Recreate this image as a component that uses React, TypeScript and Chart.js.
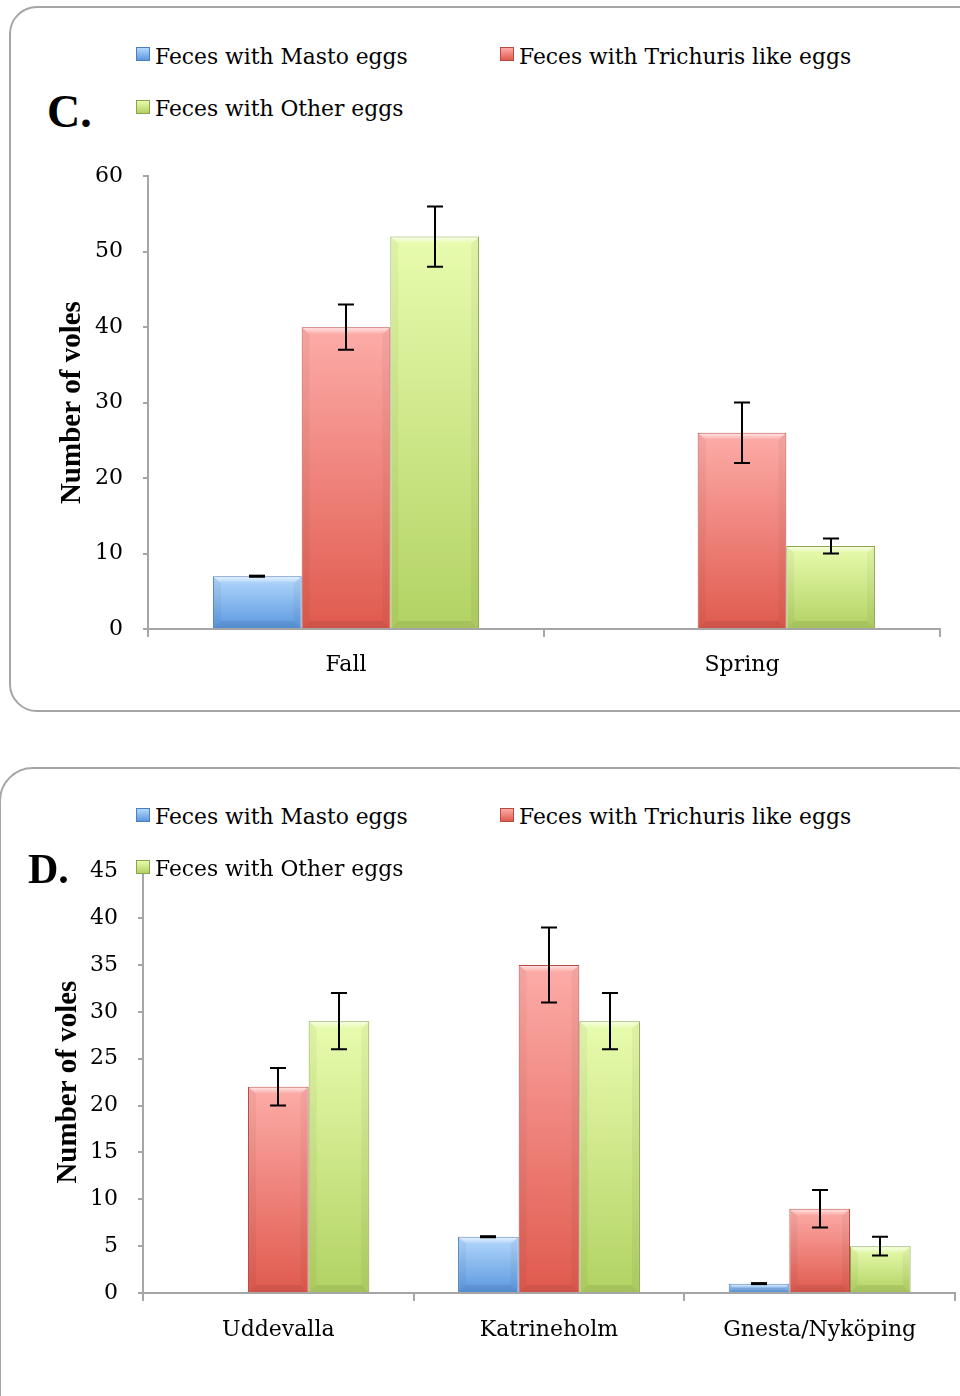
import React, { useEffect, useRef } from 'react';
import { Chart, registerables } from 'chart.js';

Chart.register(...registerables);

// ---------- data ----------
const seriesNames = ['Feces with Masto eggs', 'Feces with Trichuris like eggs', 'Feces with Other eggs'];

const seasonLabels = ['Fall', 'Spring'];
const seasonMasto = [7, 0];
const seasonTrichuris = [40, 26];
const seasonOther = [52, 11];
const seasonMastoErr = [0, null];
const seasonTrichurisErr = [3, 4];
const seasonOtherErr = [4, 1];
const seasonAxisMax = 60;
const seasonAxisStep = 10;

const siteLabels = ['Uddevalla', 'Katrineholm', 'Gnesta/Nyköping'];
const siteMasto = [0, 6, 1];
const siteTrichuris = [22, 35, 9];
const siteOther = [29, 29, 5];
const siteMastoErr = [null, 0, 0];
const siteTrichurisErr = [2, 4, 2];
const siteOtherErr = [3, 3, 1];
const siteAxisMax = 45;
const siteAxisStep = 5;

const yTitle = 'Number of voles';

// ---------- style ----------
const colTop = ['#b4d8fc', '#fdaca8', '#e8fcae'];
const colBottom = ['#5a98df', '#e05a4e', '#b2d263'];
const colEdge = ['#4a7fbf', '#b84a42', '#8ca34c'];
const axisColor = '#a6a6a6';
const tickFont = { family: 'DejaVu Serif', size: 22 };
const legendFontFamily = 'DejaVu Serif';

function barGradient(c: any, i: number) {
  const chart = c.chart;
  if (!chart.chartArea || c.raw == null) return colBottom[i];
  const y = chart.scales.y;
  const top = y.getPixelForValue(c.raw);
  const bot = y.getPixelForValue(0);
  if (!isFinite(top) || Math.abs(bot - top) < 1) return colTop[i];
  const g = chart.ctx.createLinearGradient(0, top, 0, bot);
  g.addColorStop(0, colTop[i]);
  g.addColorStop(1, colBottom[i]);
  return g;
}

const bevelAndErrors = {
  id: 'errorBars',
  afterDatasetsDraw(chart: any, _args: any, opts: any) {
    const ctx = chart.ctx;
    const y = chart.scales.y;
    const errs = opts.errors || [];
    ctx.save();
    // bevel highlights
    chart.data.datasets.forEach((ds: any, di: number) => {
      const meta = chart.getDatasetMeta(di);
      meta.data.forEach((el: any) => {
        const p = el.getProps(['x', 'y', 'base', 'width'], true);
        const h = p.base - p.y;
        if (h < 2) return;
        const l = p.x - p.width / 2 + 1;
        const r = p.x + p.width / 2 - 1;
        const bw = Math.min(7, h / 2);
        const gt = ctx.createLinearGradient(0, p.y, 0, p.y + bw);
        gt.addColorStop(0, 'rgba(255,255,255,0.75)');
        gt.addColorStop(1, 'rgba(255,255,255,0)');
        ctx.fillStyle = gt;
        ctx.beginPath();
        ctx.moveTo(l, p.y + 1);
        ctx.lineTo(r, p.y + 1);
        ctx.lineTo(r - bw, p.y + bw);
        ctx.lineTo(l + bw, p.y + bw);
        ctx.closePath();
        ctx.fill();
        ctx.fillStyle = 'rgba(0,0,0,0.04)';
        ctx.beginPath();
        ctx.moveTo(l, p.y + 1);
        ctx.lineTo(l + bw, p.y + bw);
        ctx.lineTo(l + bw, p.base - bw);
        ctx.lineTo(l, p.base);
        ctx.closePath();
        ctx.fill();
        ctx.beginPath();
        ctx.moveTo(r, p.y + 1);
        ctx.lineTo(r - bw, p.y + bw);
        ctx.lineTo(r - bw, p.base - bw);
        ctx.lineTo(r, p.base);
        ctx.closePath();
        ctx.fill();
        ctx.fillStyle = 'rgba(0,0,0,0.08)';
        ctx.beginPath();
        ctx.moveTo(l, p.base);
        ctx.lineTo(l + bw, p.base - bw);
        ctx.lineTo(r - bw, p.base - bw);
        ctx.lineTo(r, p.base);
        ctx.closePath();
        ctx.fill();
      });
    });
    // error bars
    ctx.strokeStyle = '#000';
    ctx.lineWidth = 2;
    chart.data.datasets.forEach((ds: any, di: number) => {
      const meta = chart.getDatasetMeta(di);
      meta.data.forEach((el: any, i: number) => {
        const e = errs[di] ? errs[di][i] : null;
        if (e == null) return;
        const v = ds.data[i];
        const x = Math.round(el.x);
        const yh = y.getPixelForValue(v + e);
        const yl = y.getPixelForValue(v - e);
        const cap = 8;
        ctx.beginPath();
        ctx.moveTo(x, yh);
        ctx.lineTo(x, yl);
        ctx.moveTo(x - cap, yh);
        ctx.lineTo(x + cap, yh);
        ctx.moveTo(x - cap, yl);
        ctx.lineTo(x + cap, yl);
        ctx.stroke();
        if (e === 0) {
          ctx.fillStyle = '#000';
          ctx.fillRect(x - cap, yh - 1.5, cap * 2, 3);
        }
      });
    });
    ctx.restore();
  },
};

type PanelProps = {
  labels: string[];
  series: number[][];
  errors: (number | null)[][];
  max: number;
  step: number;
  top: number;
  height: number;
  padTop: number;
  padRight: number;
  yWidth: number;
  xHeight: number;
  titlePad: number;
  xPad: number;
};

function BarPanel(props: PanelProps) {
  const ref = useRef<HTMLCanvasElement>(null);
  useEffect(() => {
    if (!ref.current) return;
    const chart = new Chart(ref.current, {
      type: 'bar',
      data: {
        labels: props.labels,
        datasets: props.series.map((d, i) => ({
          label: seriesNames[i],
          data: d,
          backgroundColor: (c: any) => barGradient(c, i),
          borderColor: colEdge[i],
          borderWidth: 1,
          categoryPercentage: 0.672,
          barPercentage: 1,
        })),
      },
      options: {
        animation: false,
        responsive: false,
        maintainAspectRatio: false,
        layout: { padding: { top: props.padTop, right: props.padRight, left: 0, bottom: 0 } },
        plugins: {
          legend: { display: false },
          tooltip: { enabled: false },
          errorBars: { errors: props.errors },
        } as any,
        scales: {
          x: {
            grid: {
              display: true,
              drawOnChartArea: false,
              drawTicks: true,
              tickLength: 8,
              color: axisColor,
              lineWidth: 2,
              offset: true,
            },
            border: { display: true, color: axisColor, width: 2 },
            ticks: { font: tickFont, color: '#000', padding: props.xPad, maxRotation: 0 },
            afterFit: (s: any) => {
              s.height = props.xHeight;
            },
          },
          y: {
            min: 0,
            max: props.max,
            ticks: { stepSize: props.step, font: tickFont, color: '#000', padding: 20 },
            grid: {
              display: true,
              drawOnChartArea: false,
              drawTicks: true,
              tickLength: 5,
              color: axisColor,
              lineWidth: 2,
            },
            border: { display: true, color: axisColor, width: 2 },
            title: {
              display: true,
              text: yTitle,
              color: '#000',
              font: { family: 'Liberation Serif', weight: 'bold', size: 29 },
              padding: { top: props.titlePad, bottom: 0 },
            },
            afterFit: (s: any) => {
              s.width = props.yWidth;
            },
          },
        },
      },
      plugins: [bevelAndErrors],
    } as any);
    return () => chart.destroy();
  }, []);
  return (
    <canvas
      ref={ref}
      width={960}
      height={props.height}
      style={{ position: 'absolute', left: 0, top: props.top, width: 960, height: props.height }}
    />
  );
}

function LegendItem({ idx, sx, sy, baseline }: { idx: number; sx: number; sy: number; baseline: number }) {
  return (
    <>
      <div
        style={{
          position: 'absolute',
          left: sx,
          top: sy,
          width: 12,
          height: 12,
          background: `linear-gradient(to bottom, ${colTop[idx]}, ${colBottom[idx]})`,
          border: `1px solid ${colEdge[idx]}`,
        }}
      />
      <div
        style={{
          position: 'absolute',
          left: sx + 19,
          top: baseline - 20,
          fontFamily: legendFontFamily,
          fontSize: 21.8,
          lineHeight: '24px',
          whiteSpace: 'nowrap',
          color: '#000',
        }}
      >
        {seriesNames[idx]}
      </div>
    </>
  );
}

export default function App() {
  return (
    <div
      style={{
        position: 'absolute',
        left: 0,
        top: 0,
        width: 960,
        height: 1396,
        overflow: 'hidden',
        background: '#fff',
      }}
    >
      {/* Panel C */}
      <div
        style={{
          position: 'absolute',
          left: 9,
          top: 6,
          width: 980,
          height: 706,
          border: '2px solid #a6a6a6',
          borderRadius: 28,
          boxSizing: 'border-box',
        }}
      />
      <BarPanel
        labels={seasonLabels}
        series={[seasonMasto, seasonTrichuris, seasonOther]}
        errors={[seasonMastoErr, seasonTrichurisErr, seasonOtherErr]}
        max={seasonAxisMax}
        step={seasonAxisStep}
        top={143}
        height={567}
        padTop={10}
        padRight={20}
        yWidth={148}
        xHeight={81}
        titlePad={55}
        xPad={15}
      />
      <div
        style={{
          position: 'absolute',
          left: 47,
          top: 89,
          fontFamily: 'Liberation Serif',
          fontWeight: 'bold',
          fontSize: 46,
          lineHeight: '46px',
          color: '#000',
        }}
      >
        C.
      </div>
      <LegendItem idx={0} sx={136} sy={47} baseline={65} />
      <LegendItem idx={1} sx={500} sy={47} baseline={65} />
      <LegendItem idx={2} sx={136} sy={100} baseline={117} />

      {/* Panel D */}
      <div
        style={{
          position: 'absolute',
          left: -1,
          top: 767,
          width: 990,
          height: 700,
          border: '2px solid #a6a6a6',
          borderRadius: 34,
          boxSizing: 'border-box',
        }}
      />
      <BarPanel
        labels={siteLabels}
        series={[siteMasto, siteTrichuris, siteOther]}
        errors={[siteMastoErr, siteTrichurisErr, siteOtherErr]}
        max={siteAxisMax}
        step={siteAxisStep}
        top={838}
        height={558}
        padTop={10}
        padRight={5}
        yWidth={143}
        xHeight={103}
        titlePad={51}
        xPad={16}
      />
      <div
        style={{
          position: 'absolute',
          left: 28,
          top: 848,
          fontFamily: 'Liberation Serif',
          fontWeight: 'bold',
          fontSize: 42,
          lineHeight: '42px',
          color: '#000',
        }}
      >
        D.
      </div>
      <LegendItem idx={0} sx={136} sy={808} baseline={825} />
      <LegendItem idx={1} sx={500} sy={808} baseline={825} />
      <LegendItem idx={2} sx={136} sy={860} baseline={877} />
    </div>
  );
}
